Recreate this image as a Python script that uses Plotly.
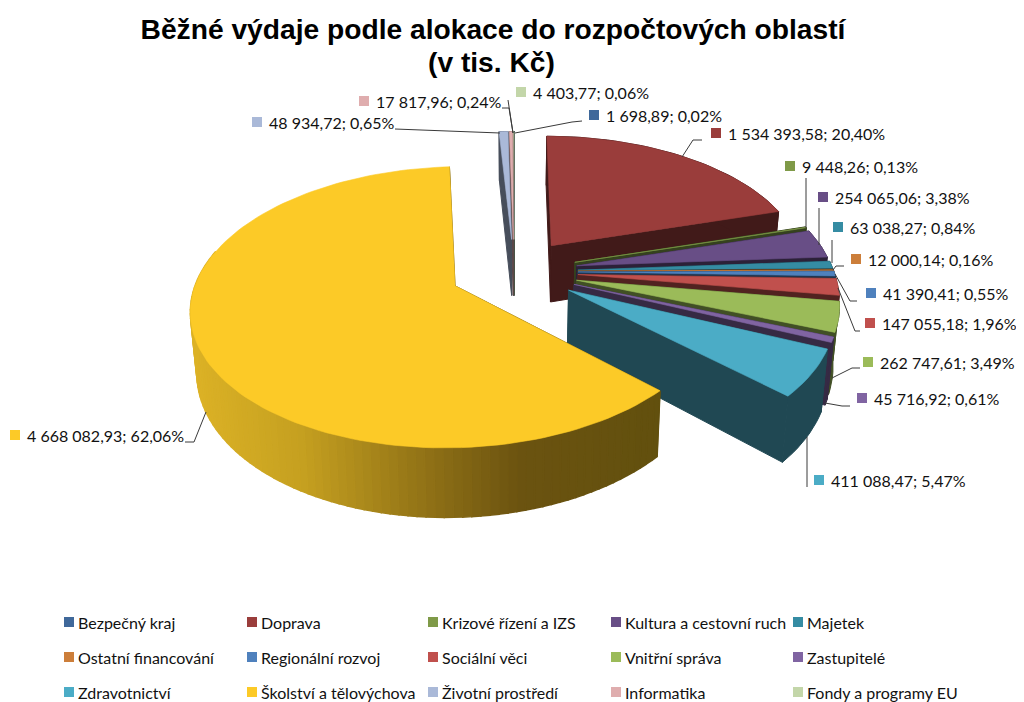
import numpy as np
import plotly.graph_objects as go

# ---------- data ----------
categories = ["Bezpečný kraj", "Doprava", "Krizové řízení a IZS", "Kultura a cestovní ruch", "Majetek",
              "Ostatní financování", "Regionální rozvoj", "Sociální věci", "Vnitřní správa", "Zastupitelé",
              "Zdravotnictví", "Školství a tělovýchova", "Životní prostředí", "Informatika", "Fondy a programy EU"]
values = [1698.89, 1534393.58, 9448.26, 254065.06, 63038.27,
          12000.14, 41390.41, 147055.18, 262747.61, 45716.92,
          411088.47, 4668082.93, 48934.72, 17817.96, 4403.77]
colors = ["#3F689A", "#9A3D3B", "#7F9A48", "#684E86", "#358CA3",
          "#CC7E3A", "#4F81BD", "#C0504D", "#9BBB59", "#8064A2",
          "#4BACC6", "#FCCA27", "#AAB9D8", "#DFADAE", "#C3D6A9"]

# ---------- page geometry of the 3D pie ----------
PAGE = 8  # default body margin of the written page
CX, CY, R, RY, P, DEPTH, EXPLODE, SHRINK = 514, 271.5, 256, 133, 0.15, 58, 0.25, 0.98
SIDE = 0.42
YELLOW_STOPS_X = [190, 300, 440, 520, 660]
YELLOW_STOPS_C = [(220, 178, 38), (197, 160, 32), (138, 108, 21), (107, 83, 16), (98, 80, 14)]

label_pos = [(594, 115), (716, 133), (790, 166), (823, 197), (838, 227),
             (856, 259), (871, 293), (870, 323), (868, 362), (862, 398),
             (819, 480), (15, 435), (257, 122), (364, 101), (521, 92)]
legend_x = [69, 252, 433, 616, 798]
legend_y = [622, 657, 692]
leaders = [
    [(515, 133), (572, 122), (582, 121)],
    [(682, 157), (693, 140), (702, 140)],
    [(806, 228), (806, 178)],
    [(819, 245), (819, 208)],
    [(832, 263), (832, 240)],
    [(833, 270), (836, 266), (844, 266)],
    [(835, 274), (850, 301), (857, 301)],
    [(838, 288), (855, 331), (860, 331)],
    [(832, 378), (852, 368), (860, 368)],
    [(825, 403), (842, 406), (850, 406)],
    [(807, 437), (807, 487)],
    [(206, 412), (194, 442), (185, 442)],
    [(500, 133), (395, 129)],
    [(513, 133), (509, 108), (502, 108)],
    [(513, 133), (508, 100)],
]


def top(x, y):
    w = 1 + P * y
    return CX + R * x / w, CY - RY * y / w


def bottom(x, y):
    w = 1 + P * y
    return CX + SHRINK * R * x / w, CY - RY * y / w + DEPTH / w


def hex_rgb(h):
    return tuple(int(h[i:i + 2], 16) for i in (1, 3, 5))


def css(c):
    return "rgb(%d,%d,%d)" % tuple(round(v) for v in c)


def poly(xs, ys, color, width=0.6):
    return go.Scatter(x=list(xs), y=list(ys), mode="lines", fill="toself", fillcolor=color,
                      line=dict(color=color, width=width), hoverinfo="skip", showlegend=False)


total = sum(values)
shares = [v / total for v in values]
edges = np.cumsum([0] + shares) * 2 * np.pi
slices = []
for i, name in enumerate(categories):
    a0, a1 = edges[i], edges[i + 1]
    mid = (a0 + a1) / 2
    ox, oy = EXPLODE * np.sin(mid), EXPLODE * np.cos(mid)
    n = max(3, int((a1 - a0) / 0.03))
    th = np.linspace(a0, a1, n)
    ax, ay = ox + np.sin(th), oy + np.cos(th)
    slices.append(dict(i=i, ox=ox, oy=oy, th=th, ax=ax, ay=ay, near=min(ay.min(), oy)))

traces = []
for s in sorted(slices, key=lambda q: -q["near"]):
    col = colors[s["i"]]
    dark = css([c * SIDE for c in hex_rgb(col)])
    tx, ty = top(s["ox"], s["oy"])
    bx, by = bottom(s["ox"], s["oy"])
    ux, uy = top(s["ax"], s["ay"])
    lx, ly = bottom(s["ax"], s["ay"])
    # radial faces
    for k in (0, -1):
        traces.append(poly([tx, ux[k], lx[k], bx, tx], [ty, uy[k], ly[k], by, ty], dark, width=1))
    # outer wall
    if categories[s["i"]] == "Školství a tělovýchova":
        for k in range(len(ux) - 1):
            if np.cos(s["th"][k]) > 0.25:
                continue
            xm = (ux[k] + ux[k + 1]) / 2
            c = [np.interp(xm, YELLOW_STOPS_X, [q[j] for q in YELLOW_STOPS_C]) for j in range(3)]
            traces.append(poly([ux[k], ux[k + 1], lx[k + 1], lx[k], ux[k]],
                               [uy[k], uy[k + 1], ly[k + 1], ly[k], uy[k]], css(c), width=1.5))
    else:
        traces.append(poly(list(ux) + list(lx[::-1]) + [ux[0]], list(uy) + list(ly[::-1]) + [uy[0]], dark, width=1))
    # top face
    traces.append(poly([tx] + list(ux) + [tx], [ty] + list(uy) + [ty], col))

fig = go.Figure(traces)

# square keys for the data labels and for the legend
fig.add_trace(go.Scatter(x=[p[0] for p in label_pos], y=[p[1] for p in label_pos], mode="markers",
                         marker=dict(symbol="square", size=10, color=colors), hoverinfo="skip", showlegend=False))
legend_pts = [(legend_x[i % 5], legend_y[i // 5]) for i in range(len(categories))]
fig.add_trace(go.Scatter(x=[p[0] for p in legend_pts], y=[p[1] for p in legend_pts], mode="markers",
                         marker=dict(symbol="square", size=10, color=colors), hoverinfo="skip", showlegend=False))


def fmt(v):
    return f"{v:,.2f}".replace(",", " ").replace(".", ",")


annotations = []
FONT = dict(family="Lato", size=16, color="#111111")
for i, v in enumerate(values):
    pct = f"{100 * v / total:.2f}".replace(".", ",")
    annotations.append(dict(x=label_pos[i][0] + 10, y=label_pos[i][1], xref="x", yref="y", showarrow=False,
                            xanchor="left", yanchor="middle", text=f"{fmt(v)}; {pct}%", font=FONT))
    annotations.append(dict(x=legend_pts[i][0] + 7, y=legend_pts[i][1], xref="x", yref="y", showarrow=False,
                            xanchor="left", yanchor="middle", text=categories[i], font=FONT))
TITLE_FONT = dict(family="Liberation Sans", size=28.2, color="black", weight="bold")
annotations.append(dict(x=491, y=62, xref="x", yref="y", showarrow=False, xanchor="center", yanchor="middle",
                        text="(v tis. Kč)", font=TITLE_FONT))

shapes = []
for pts in leaders:
    path = "M " + " L ".join(f"{x},{y}" for x, y in pts)
    shapes.append(dict(type="path", path=path, xref="x", yref="y", line=dict(color="#3a3a3a", width=1), layer="above"))

W, H = 1024, 702
fig.update_layout(
    width=W, height=H, autosize=False,
    margin=dict(l=0, r=0, t=0, b=0),
    paper_bgcolor="white", plot_bgcolor="white",
    xaxis=dict(range=[PAGE, W + PAGE], visible=False, fixedrange=True),
    yaxis=dict(range=[H + PAGE, PAGE], visible=False, fixedrange=True),
    title=dict(text="Běžné výdaje podle alokace do rozpočtových oblastí",
               x=(493 - PAGE) / W, xanchor="center", y=1 - (29 - PAGE) / H, yanchor="middle",
               font=TITLE_FONT),
    annotations=annotations, shapes=shapes, showlegend=False,
)
fig.write_html("out.html", config=dict(displayModeBar=False))
